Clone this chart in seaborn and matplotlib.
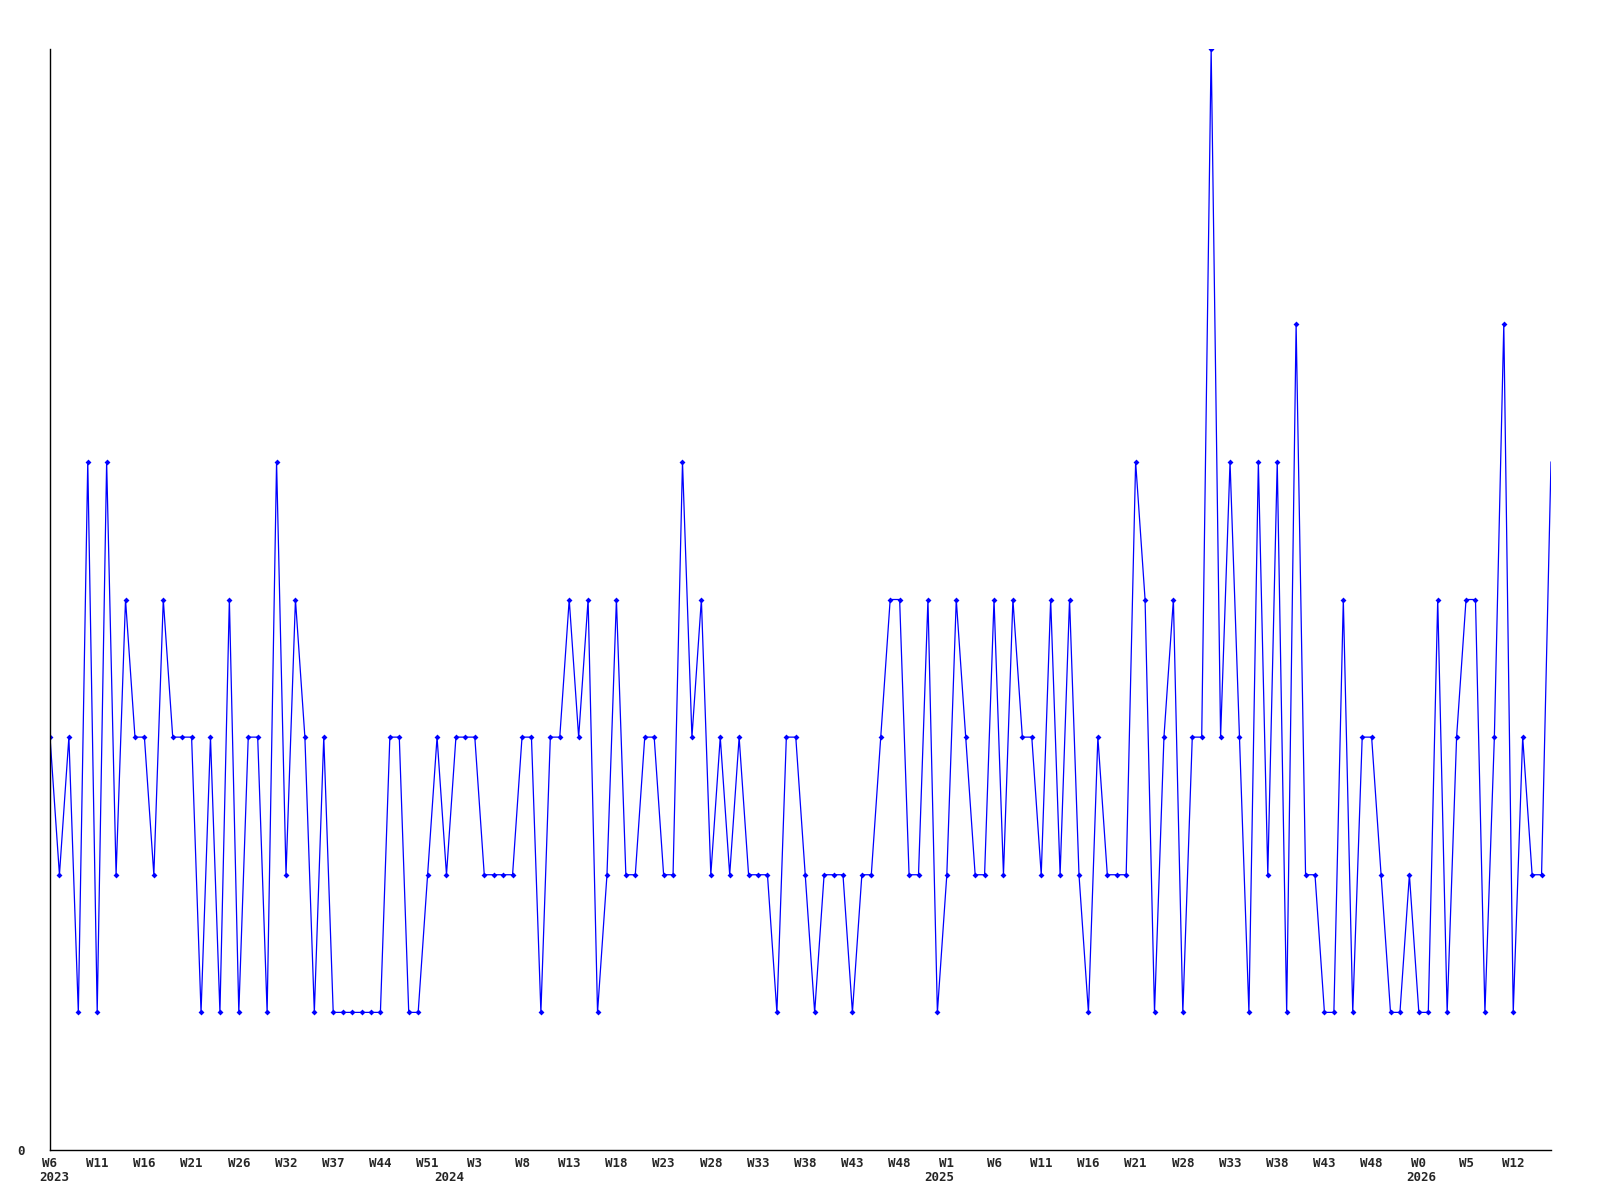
import numpy as np
import pandas as pd
import matplotlib
matplotlib.use('Agg')
import matplotlib.pyplot as plt
import seaborn as sns

# weekly counts, one per week, in order
counts = [3, 2, 3, 1, 5, 1, 5, 2, 4, 3,
          3, 2, 4, 3, 3, 3, 1, 3, 1, 4,
          1, 3, 3, 1, 5, 2, 4, 3, 1, 3,
          1, 1, 1, 1, 1, 1, 3, 3, 1, 1,
          2, 3, 2, 3, 3, 3, 2, 2, 2, 2,
          3, 3, 1, 3, 3, 4, 3, 4, 1, 2,
          4, 2, 2, 3, 3, 2, 2, 5, 3, 4,
          2, 3, 2, 3, 2, 2, 2, 1, 3, 3,
          2, 1, 2, 2, 2, 1, 2, 2, 3, 4,
          4, 2, 2, 4, 1, 2, 4, 3, 2, 2,
          4, 2, 4, 3, 3, 2, 4, 2, 4, 2,
          1, 3, 2, 2, 2, 5, 4, 1, 3, 4,
          1, 3, 3, 8, 3, 5, 3, 1, 5, 2,
          5, 1, 6, 2, 2, 1, 1, 4, 1, 3,
          3, 2, 1, 1, 2, 1, 1, 4, 1, 3,
          4, 4, 1, 3, 6, 1, 3, 2, 2, 5]

# labels shown every 5th week
week_labels = ['W6', 'W11', 'W16', 'W21', 'W26', 'W32', 'W37', 'W44',
               'W51', 'W3', 'W8', 'W13', 'W18', 'W23', 'W28', 'W33',
               'W38', 'W43', 'W48', 'W1', 'W6', 'W11', 'W16', 'W21',
               'W28', 'W33', 'W38', 'W43', 'W48', 'W0', 'W5', 'W12']
years = ['2023', '2024', '2025', '2026']
year_start_week = [0.4, 42.3, 94.2, 145.3]

df = pd.DataFrame({'week': np.arange(len(counts)), 'count': counts})

sns.set_style('white')
plt.rcParams['font.family'] = ['DejaVu Sans Mono', 'DejaVu Sans']

fig = plt.figure(figsize=(16, 12), dpi=100)
ax = fig.add_axes([50 / 1600, 50 / 1200, 1501 / 1600, 1101 / 1200])

sns.lineplot(data=df, x='week', y='count', ax=ax, color='#0000ff',
             linewidth=0.9, marker='D', markersize=3, markeredgewidth=0,
             markevery=list(range(len(counts) - 1)))

ax.set_xlim(0, len(counts) - 1)
ax.set_ylim(0, 8)
ax.set_xticks(np.arange(0, len(counts), 5))
ax.set_xticklabels(week_labels, fontsize=9, fontweight='bold')
ax.set_yticks([0])
ax.set_yticklabels(['0'], fontsize=9, fontweight='bold')
ax.tick_params(axis='both', length=0)
ax.tick_params(axis='x', pad=5)
ax.tick_params(axis='y', pad=18)
ax.set_xlabel('')
ax.set_ylabel('')

for pos, yr in zip(year_start_week, years):
    ax.annotate(yr, xy=(pos, 0), xycoords=('data', 'axes fraction'),
                xytext=(0, -21), textcoords='offset pixels',
                ha='center', va='top', fontsize=9, fontweight='bold')

sns.despine(ax=ax)
for s in ['left', 'bottom']:
    ax.spines[s].set_color('black')
    ax.spines[s].set_linewidth(1)

fig.savefig('out.png', dpi=100)
